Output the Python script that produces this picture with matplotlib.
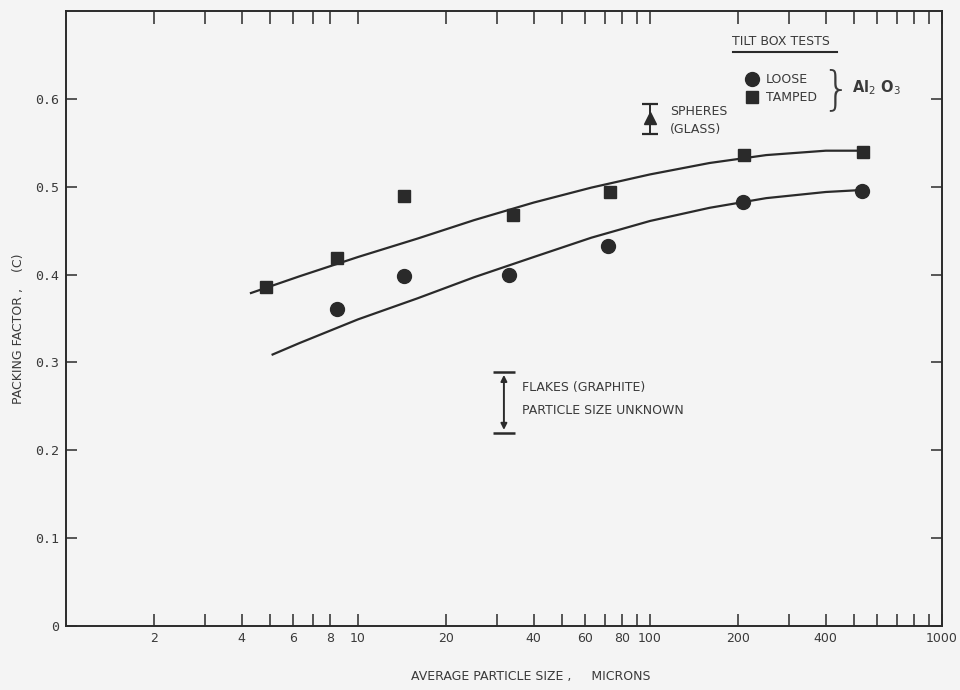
import matplotlib
matplotlib.use("Agg")
import matplotlib.pyplot as plt
from matplotlib.ticker import FixedLocator, FuncFormatter

# Tilt box tests, Al2O3 powders
size_loose = [8.5, 14.4, 33, 72, 208, 532]
pf_loose = [0.361, 0.398, 0.400, 0.433, 0.483, 0.495]
size_tamped = [4.84, 8.5, 14.4, 34, 73, 210, 535]
pf_tamped = [0.386, 0.419, 0.490, 0.468, 0.494, 0.536, 0.540]

# Faired curves through each set
curve_size_tamped = [4.3, 6.3, 10, 16, 25, 40, 63, 100, 160, 250, 400, 515]
curve_pf_tamped = [0.379, 0.398, 0.420, 0.441, 0.462, 0.482, 0.499, 0.514,
                   0.527, 0.536, 0.541, 0.541]
curve_size_loose = [5.1, 6.3, 10, 16, 25, 40, 63, 100, 160, 250, 400, 515]
curve_pf_loose = [0.309, 0.322, 0.349, 0.373, 0.397, 0.420, 0.442, 0.461,
                  0.476, 0.487, 0.494, 0.496]

# Glass spheres and graphite flakes
sphere_size = 100
sphere_pf = 0.578
sphere_range = [0.560, 0.594]
flake_size = 31.6
flake_range = [0.220, 0.289]

x_tick_positions = [2, 3, 4, 5, 6, 7, 8, 10, 20, 30, 40, 50, 60, 70, 80, 90, 100,
                    200, 300, 400, 500, 600, 700, 800, 900, 1000]
x_tick_labels = [2, 4, 6, 8, 10, 20, 40, 60, 80, 100, 200, 400, 1000]
y_ticks = [0, 0.1, 0.2, 0.3, 0.4, 0.5, 0.6]

ink = "#2a2a2a"
text_ink = "#3a3a3a"
paper = "#f4f4f4"
sans = "DejaVu Sans"
mono = "DejaVu Sans Mono"

fig = plt.figure(figsize=(9.6, 6.9), dpi=100, facecolor=paper)
ax = fig.add_axes([66 / 960, 64 / 690, 876 / 960, 615 / 690], facecolor=paper)
ax.set_xscale("log")
ax.set_xlim(1, 1000)
ax.set_ylim(0, 0.7)

# curves and points
ax.plot(curve_size_tamped, curve_pf_tamped, color=ink, lw=1.6, zorder=2,
        solid_joinstyle="round")
ax.plot(curve_size_loose, curve_pf_loose, color=ink, lw=1.6, zorder=2,
        solid_joinstyle="round")
ax.plot(size_loose, pf_loose, ls="none", marker="o", ms=10, color=ink, zorder=3)
ax.plot(size_tamped, pf_tamped, ls="none", marker="s", ms=8.5, color=ink, zorder=3)

# spheres (glass)
ax.errorbar([sphere_size], [sphere_pf],
            yerr=[[sphere_pf - sphere_range[0]], [sphere_range[1] - sphere_pf]],
            fmt="^", ms=8, color=ink, ecolor=ink, elinewidth=1.4,
            capsize=6, capthick=1.6)
ax.text(0.6895, 0.837, "SPHERES", transform=ax.transAxes, fontsize=9,
        family=sans, color=text_ink, va="center", ha="left")
ax.text(0.6895, 0.808, "(GLASS)", transform=ax.transAxes, fontsize=9,
        family=sans, color=text_ink, va="center", ha="left")

# flakes (graphite)
ax.annotate("", xy=(flake_size, flake_range[1]), xytext=(flake_size, flake_range[0]),
            arrowprops=dict(arrowstyle="<|-|>", color=ink, lw=1.4,
                            shrinkA=2, shrinkB=2, mutation_scale=9))
ax.plot([flake_size, flake_size], flake_range, ls="none", marker="_",
        ms=16, mew=1.8, color=ink)
ax.text(0.5205, 0.3886, "FLAKES (GRAPHITE)", transform=ax.transAxes, fontsize=9,
        family=sans, color=text_ink, va="center", ha="left")
ax.text(0.5205, 0.3496, "PARTICLE SIZE UNKNOWN", transform=ax.transAxes, fontsize=9,
        family=sans, color=text_ink, va="center", ha="left")

# key
ax.text(0.760, 0.951, "TILT BOX TESTS", transform=ax.transAxes, fontsize=9,
        family=sans, color=text_ink, va="center", ha="left")
ax.plot([0.761, 0.880], [0.933, 0.933], transform=ax.transAxes, color=ink, lw=1.5)
ax.plot([0.783], [0.889], transform=ax.transAxes, marker="o", ms=10, color=ink)
ax.plot([0.783], [0.860], transform=ax.transAxes, marker="s", ms=8.5, color=ink)
ax.text(0.799, 0.888, "LOOSE", transform=ax.transAxes, fontsize=9,
        family=sans, color=text_ink, va="center", ha="left")
ax.text(0.799, 0.860, "TAMPED", transform=ax.transAxes, fontsize=9,
        family=sans, color=text_ink, va="center", ha="left")
ax.text(0.879, 0.872, "}", transform=ax.transAxes, fontsize=33, fontweight="light",
        family=sans, color=text_ink, va="center", ha="center")
ax.text(0.8975, 0.876, r"Al$_2$ O$_3$", transform=ax.transAxes, fontsize=10.5,
        family=sans, fontweight="bold", color=text_ink, va="center", ha="left")

# axes styling
for s in ax.spines.values():
    s.set_color(ink)
    s.set_linewidth(1.4)

ax.xaxis.set_major_locator(FixedLocator(x_tick_positions))
ax.xaxis.set_minor_locator(FixedLocator([]))
ax.xaxis.set_major_formatter(FuncFormatter(
    lambda v, p: f"{v:g}" if round(v) in x_tick_labels else ""))
ax.set_yticks(y_ticks)
ax.yaxis.set_major_formatter(FuncFormatter(lambda v, p: "0" if v == 0 else f"{v:.1f}"))

ax.tick_params(axis="x", which="both", direction="in", length=9, width=1.1,
               top=True, bottom=True, color=ink, labelsize=9, labelcolor=text_ink,
               pad=4)
ax.tick_params(axis="y", which="both", direction="in", length=8, width=1.1,
               left=True, right=True, color=ink, labelsize=9.5, labelcolor=text_ink,
               pad=5)
for lab in ax.get_yticklabels():
    lab.set_family(mono)
for lab in ax.get_xticklabels():
    lab.set_family(sans)

fig.text(0.553, 0.019, "AVERAGE PARTICLE SIZE ,     MICRONS", fontsize=9,
         family=sans, color=text_ink, ha="center", va="center")
fig.text(0.019, 0.523, "PACKING FACTOR ,    (C)", fontsize=9, rotation=90,
         family=sans, color=text_ink, ha="center", va="center")

fig.savefig("out.png", dpi=100, facecolor=paper)
